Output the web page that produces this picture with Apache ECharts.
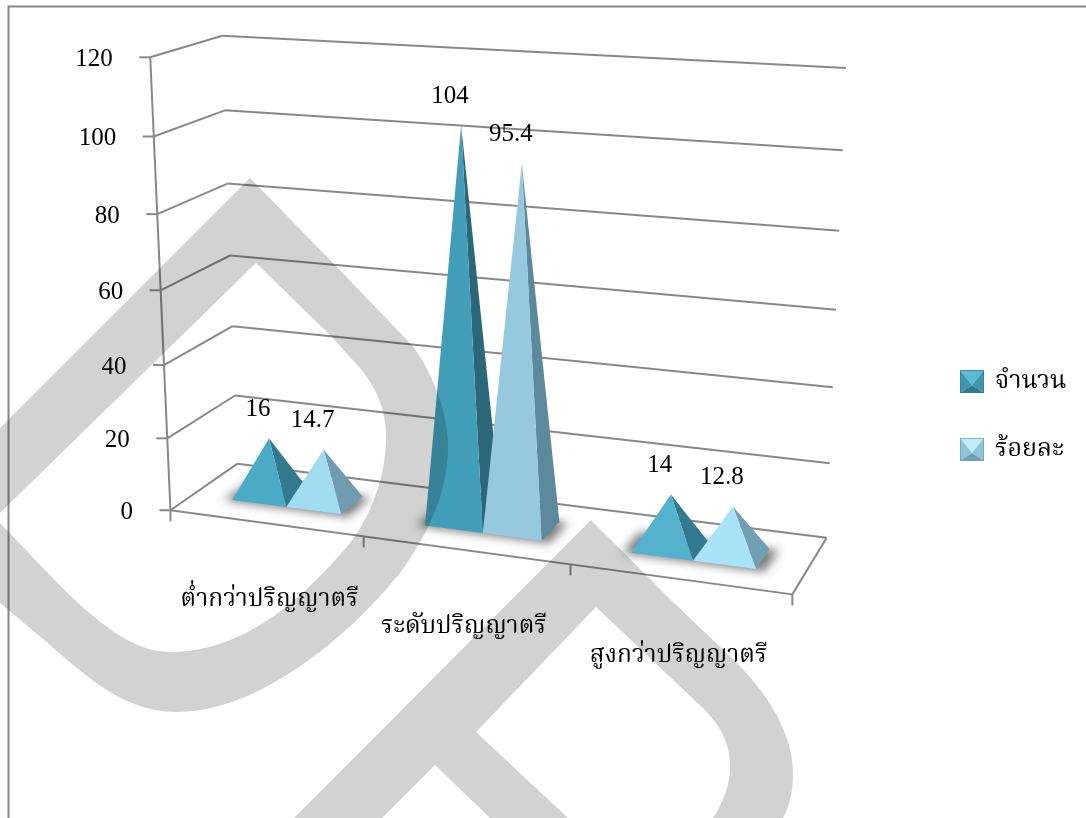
<!DOCTYPE html>
<html>
<head>
<meta charset="utf-8">
<style>html,body{margin:0;padding:0;background:#fff}#chart{width:1086px;height:818px}</style>
<script src="https://cdn.jsdelivr.net/npm/echarts@6/dist/echarts.min.js"></script>
</head>
<body>
<div id="chart"></div>
<script>
// Education level table: head count and percentage per level
const categories = ['ต่ำกว่าปริญญาตรี', 'ระดับปริญญาตรี', 'สูงกว่าปริญญาตรี'];
const countValues = [16, 104, 14];
const percentValues = [14.7, 95.4, 12.8];
const axisTicks = [0, 20, 40, 60, 80, 100, 120];
const seriesNames = ['จำนวน', 'ร้อยละ'];

// Face colours per category: [count, percent]
const frontFaces = [['#4aabc6', '#a2dcf0'], ['#429eb8', '#96c9de'], ['#54b2ce', '#a9e3f8']];
const sideFaces = [['#33798f', '#6f9cb0'], ['#2b6779', '#5c8a9c'], ['#327a90', '#6e9fb2']];
// Horizontal nudge of each category name under the floor
const categoryLabelShift = [4, -1.5, -1];

const GRID = { left: 170, top: 57, width: 622, height: 453 };
const SERIF = '"Liberation Serif","Noto Serif Thai","Norasi","TH Sarabun New","Noto Sans Thai",serif';
const LINE = '#888';

// Box corners of the 3D plot: [u, v, z] -> screen position
const boxCorners = [
  [0, 0, 0, 171, 510], [0, 1, 0, 150, 57], [0, 0, 1, 237, 464], [0, 1, 1, 222.5, 36],
  [1, 0, 0, 792, 595], [1, 0, 1, 827, 537], [1, 1, 1, 846, 68]
];

// Least-squares fit of a 3x4 projective camera through the box corners
function fitCamera(pts) {
  const n = 11, M = Array.from({ length: n }, () => new Array(n + 1).fill(0));
  const add = (row, b) => {
    for (let i = 0; i < n; i++) {
      for (let j = 0; j < n; j++) M[i][j] += row[i] * row[j];
      M[i][n] += row[i] * b;
    }
  };
  pts.forEach(([X, Y, Z, px, py]) => {
    const x = px / 1000, y = py / 1000;
    add([X, Y, Z, 1, 0, 0, 0, 0, -x * X, -x * Y, -x * Z], x);
    add([0, 0, 0, 0, X, Y, Z, 1, -y * X, -y * Y, -y * Z], y);
  });
  for (let c = 0; c < n; c++) {
    let best = c;
    for (let r = c + 1; r < n; r++) if (Math.abs(M[r][c]) > Math.abs(M[best][c])) best = r;
    [M[c], M[best]] = [M[best], M[c]];
    for (let r = 0; r < n; r++) {
      if (r === c) continue;
      const f = M[r][c] / M[c][c];
      for (let k = c; k <= n; k++) M[r][k] -= f * M[c][k];
    }
  }
  return M.map((row, i) => row[n] / row[i]);
}
const cam = fitCamera(boxCorners);
function toScreen(u, v, z) {
  const w = cam[8] * u + cam[9] * v + cam[10] * z + 1;
  return [
    1000 * (cam[0] * u + cam[1] * v + cam[2] * z + cam[3]) / w,
    1000 * (cam[4] * u + cam[5] * v + cam[6] * z + cam[7]) / w
  ];
}
// Scale a (category, value) pair through the cartesian axes, then lift it into the box
function plotCoord(api, cat, val) {
  const p = api.coord([cat, val]);
  return { u: (p[0] - GRID.left) / GRID.width, v: (GRID.top + GRID.height - p[1]) / GRID.height };
}
const bandU = () => 1 / categories.length;
const BAR_SHARE = 0.287, Z_FRONT = 0.32, Z_BACK = 0.68;

function line(a, b, width) {
  return { type: 'line', shape: { x1: a[0], y1: a[1], x2: b[0], y2: b[1] },
    style: { stroke: LINE, lineWidth: width || 2 } };
}
function textEl(text, x, y, size, align) {
  return { type: 'text', style: { text, x, y, fill: '#000', font: size + 'px ' + SERIF,
    align: align || 'center', verticalAlign: 'middle' } };
}

// Side wall, back wall and tick label for every value tick
function renderGridLine(params, api) {
  const val = api.value(1);
  const { v } = plotCoord(api, 0, val);
  const a = toScreen(0, v, 0), b = toScreen(0, v, 1), c = toScreen(1, v, 1);
  return { type: 'group', children: [
    line(a, b), line(b, c), line([a[0] - 11, a[1]], a),
    textEl(String(val), a[0] - 37.5, a[1] + 2, 25, 'right')
  ] };
}
// Floor edges, category ticks and category names
function renderFloor(params, api) {
  const cat = api.value(0);
  const mid = plotCoord(api, cat, 0).u;
  const edge = mid + bandU() / 2;
  const p = toScreen(edge, 0, 0), m = toScreen(mid, 0, 0);
  const kids = [line(p, [p[0], p[1] + 11]),
    textEl(categories[cat], m[0] + categoryLabelShift[cat], m[1] + 76, 24.5)];
  if (cat === 0) {
    const o = toScreen(0, 0, 0), r = toScreen(1, 0, 0), t = toScreen(0, 1, 0);
    kids.push(line(o, r), line(r, toScreen(1, 0, 1)), line(t, o), line(o, [o[0], o[1] + 11]));
  }
  return { type: 'group', children: kids };
}
// Soft shadow lying on the floor beneath each pair of pyramids.
// The shape sits off the canvas so that only its blurred shadow lands on the floor.
const SHADOW_SHIFT = 3000;
function renderShadow(params, api) {
  const cat = api.value(0), c = plotCoord(api, cat, 0).u, w = bandU() * BAR_SHARE;
  const pts = [toScreen(c - w - 0.012, 0, Z_FRONT - 0.025), toScreen(c + w + 0.014, 0, Z_FRONT - 0.025),
    toScreen(c + w + 0.014, 0, Z_BACK), toScreen(c - w - 0.012, 0, Z_BACK)]
    .map(p => [p[0] - SHADOW_SHIFT, p[1]]);
  return { type: 'polygon', shape: { points: pts },
    style: { fill: '#000', shadowBlur: 10, shadowColor: 'rgba(60,60,60,0.68)', shadowOffsetX: SHADOW_SHIFT } };
}
// One pyramid: front and right faces plus its value label
function pyramidRenderer(seriesIndex) {
  return function (params, api) {
    const cat = api.value(0), val = api.value(1);
    const { u: c, v } = plotCoord(api, cat, val);
    const w = bandU() * BAR_SHARE;
    const u0 = seriesIndex === 0 ? c - w : c, u1 = u0 + w;
    const fl = toScreen(u0, 0, Z_FRONT), fr = toScreen(u1, 0, Z_FRONT), br = toScreen(u1, 0, Z_BACK);
    const apex = toScreen((u0 + u1) / 2, v, 0.5);
    return { type: 'group', children: [
      { type: 'polygon', shape: { points: [fr, br, apex] }, style: { fill: sideFaces[cat][seriesIndex] } },
      { type: 'polygon', shape: { points: [fl, fr, apex] }, style: { fill: frontFaces[cat][seriesIndex] } },
      textEl(String(val), apex[0] - 11, apex[1] - 29, 25)
    ] };
  };
}
function pairs(values) { return values.map((v, i) => [i, v]); }
function bevelIcon(top, left, right, bottom) {
  const svg = "<svg xmlns='http://www.w3.org/2000/svg' width='24' height='23'>" +
    "<polygon points='0,0 24,0 12,15' fill='" + top + "'/>" +
    "<polygon points='0,0 12,15 0,23' fill='" + left + "'/>" +
    "<polygon points='24,0 12,15 24,23' fill='" + right + "'/>" +
    "<polygon points='0,23 24,23 12,15' fill='" + bottom + "'/>" +
    "<rect x='0.5' y='0.5' width='23' height='22' fill='none' stroke='" + bottom + "' stroke-opacity='0.7'/></svg>";
  return 'image://data:image/svg+xml;charset=utf-8,' + encodeURIComponent(svg);
}
// Flatten an outline of straight runs and cubic curves into polygon points
function outline(segments) {
  const pts = [];
  segments.forEach(seg => {
    if (seg.length === 2) { pts.push(seg); return; }
    const [x0, y0] = pts[pts.length - 1];
    for (let i = 1; i <= 24; i++) {
      const t = i / 24, s = 1 - t;
      pts.push([
        s * s * s * x0 + 3 * s * s * t * seg[0] + 3 * s * t * t * seg[2] + t * t * t * seg[4],
        s * s * s * y0 + 3 * s * s * t * seg[1] + 3 * s * t * t * seg[3] + t * t * t * seg[5]
      ]);
    }
  });
  return pts;
}
const sealLeft = outline([
  [0, 428], [250, 178], [333, 263], [407, 340], [425, 358, 448, 405, 448, 447], [448, 500, 420, 545, 400, 573],
  [350, 635, 260, 712, 177, 712], [130, 712, 95, 685, 50, 645], [0, 603], [0, 523], [45, 570],
  [90, 617, 130, 652, 170, 652], [250, 652, 310, 590, 350, 543], [375, 510, 386, 470, 386, 437],
  [386, 412, 378, 390, 360, 368], [330, 335], [256, 263], [0, 513]
]);
const sealRight = outline([
  [294, 818], [591, 520], [673, 602], [737, 663], [765, 692, 793, 730, 793, 775],
  [793, 790, 790, 805, 783, 818], [713, 818], [722, 805, 730, 785, 730, 767],
  [730, 748, 724, 730, 705, 710], [596, 607], [476, 732], [568, 818], [490, 818], [435, 765], [382, 818]
]);

const chart = echarts.init(document.getElementById('chart'), null, { renderer: 'canvas' });
const option = {
  animation: false,
  backgroundColor: '#fff',
  grid: { left: GRID.left, top: GRID.top, width: GRID.width, height: GRID.height },
  xAxis: { type: 'category', data: categories, show: false },
  yAxis: { type: 'value', min: 0, max: 120, interval: 20, show: false },
  legend: {
    left: 960, top: 369, padding: 0, orient: 'vertical', itemWidth: 24, itemHeight: 23, itemGap: 43,
    selectedMode: false,
    textStyle: { fontFamily: SERIF, fontSize: 25, color: '#000', padding: [0, 0, 0, 6] },
    data: [
      { name: seriesNames[0], icon: bevelIcon('#5cbbd3', '#3f97af', '#3f97af', '#2f7b90') },
      { name: seriesNames[1], icon: bevelIcon('#c0ecf8', '#8fc3d6', '#8fc3d6', '#6e9fb2') }
    ]
  },
  series: [
    { type: 'custom', name: 'grid', coordinateSystem: 'cartesian2d', clip: false, silent: true, z: 1,
      data: axisTicks.map(t => [0, t]), renderItem: renderGridLine },
    { type: 'custom', name: 'floor', coordinateSystem: 'cartesian2d', clip: false, silent: true, z: 2,
      data: pairs(categories.map(() => 0)), renderItem: renderFloor },
    { type: 'custom', name: 'shadow', coordinateSystem: 'cartesian2d', clip: false, silent: true, z: 3,
      data: pairs(categories.map(() => 0)), renderItem: renderShadow },
    { type: 'custom', name: seriesNames[0], coordinateSystem: 'cartesian2d', clip: false, silent: true, z: 4,
      data: pairs(countValues), renderItem: pyramidRenderer(0) },
    { type: 'custom', name: seriesNames[1], coordinateSystem: 'cartesian2d', clip: false, silent: true, z: 5,
      data: pairs(percentValues), renderItem: pyramidRenderer(1) }
  ],
  graphic: [
    // Page frame
    { type: 'polyline', z: 90, silent: true, shape: { points: [[8.5, 818], [8.5, 6.5], [1086, 6.5]] },
      style: { fill: null, stroke: '#888', lineWidth: 2 } },
    // Background seal printed across the page
    { type: 'polygon', z: 100, silent: true, shape: { points: sealLeft }, style: { fill: 'rgba(0,0,0,0.175)' } },
    { type: 'polygon', z: 100, silent: true, shape: { points: sealRight }, style: { fill: 'rgba(0,0,0,0.175)' } }
  ]
};
chart.setOption(option);
</script>
</body>
</html>
